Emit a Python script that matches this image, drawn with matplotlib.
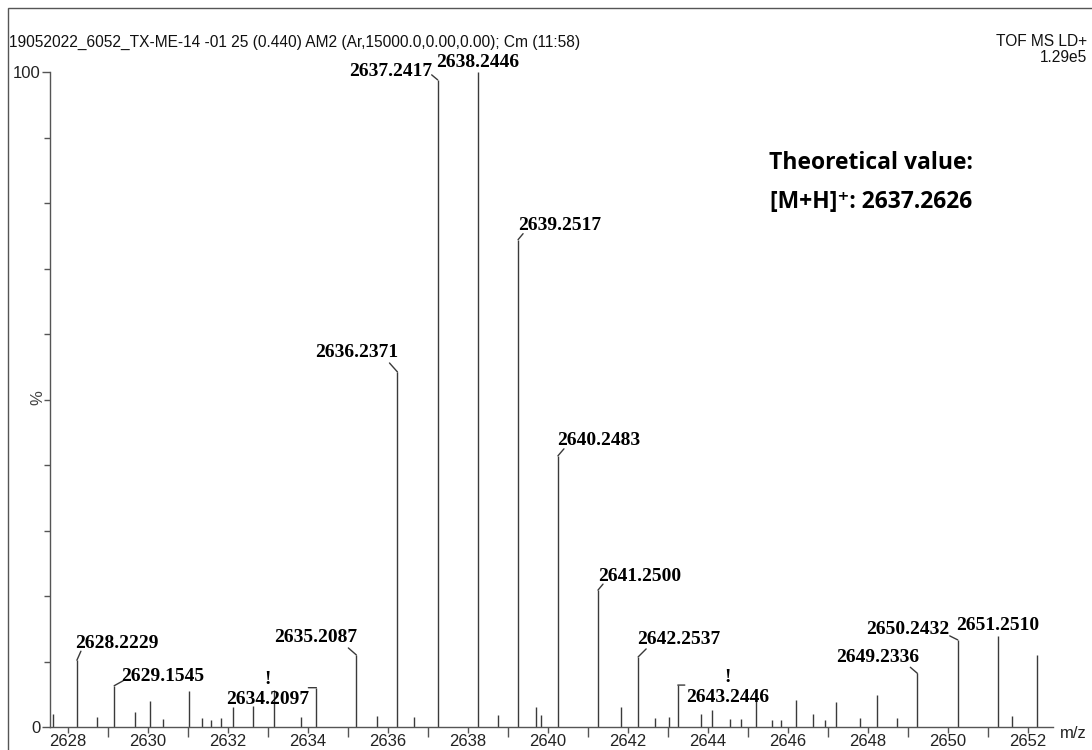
import matplotlib
matplotlib.use("Agg")
import matplotlib.pyplot as plt
from matplotlib.patches import Rectangle

# ---------------- data ----------------
labeled_mz = [2628.2229, 2629.1545, 2634.2097, 2635.2087, 2636.2371, 2637.2417,
              2638.2446, 2639.2517, 2640.2483, 2641.2500, 2642.2537, 2643.2446,
              2649.2336, 2650.2432, 2651.2510]
labeled_int = [10.2, 6.3, 6.0, 11.0, 54.2, 98.8, 100.0, 74.4, 41.4, 20.9, 10.7, 6.4,
               8.2, 13.3, 13.9]
flagged = [2634.2097, 2643.2446]  # peaks with "!" marker

small_mz = [2627.62, 2628.72, 2629.67, 2630.04, 2630.38, 2631.03, 2631.36, 2631.57,
            2631.82, 2632.13, 2632.62, 2633.15, 2633.82, 2635.72, 2636.64, 2638.75,
            2639.69, 2639.83, 2641.83, 2642.68, 2643.03, 2643.83, 2644.10, 2644.55,
            2644.82, 2645.19, 2645.60, 2645.82, 2646.20, 2646.63, 2646.93, 2647.20,
            2647.80, 2648.22, 2648.72, 2651.60, 2652.22]
small_int = [2.0, 1.6, 2.3, 4.0, 1.2, 5.5, 1.4, 1.0, 1.4, 3.1, 3.2, 5.6, 1.5, 1.7, 1.6,
             1.8, 3.1, 1.8, 3.1, 1.3, 1.5, 2.0, 2.6, 1.2, 1.2, 4.4, 1.0, 1.0, 4.1, 2.0,
             1.0, 3.8, 1.4, 4.9, 1.4, 1.7, 11.0]

xticks_major = [2628, 2630, 2632, 2634, 2636, 2638, 2640, 2642, 2644, 2646, 2648, 2650, 2652]
xticks_minor = [2629, 2631, 2633, 2635, 2637, 2639, 2641, 2643, 2645, 2647, 2649, 2651]

header = "19052022_6052_TX-ME-14 -01 25 (0.440) AM2 (Ar,15000.0,0.00,0.00); Cm (11:58)"
instrument = "TOF MS LD+"
base_peak = "1.29e5"
note1 = "Theoretical value:"
note2 = "[M+H]\u207a: 2637.2626"

# label offsets (pixels, image-down positive) relative to peak top: label centre, kink end
label_off = [(40, -17), (49, -9), (-49, 12), (-41, -17), (-41, -19), (-47, -8),
             (0, -10), (42, -14), (41, -15), (42, -14), (41, -17), (50, 12),
             (-40, -16), (-50, -10), (0, -10)]
kink_off = [(4, -9), (9, -5), (-8, 0), (-8, -7), (-8, -9), (-6, -5),
            None, (5, -6), (6, -7), (5, -6), (8, -8), (7, 0),
            (-7, -6), (-8, -4), None]

# ---------------- figure ----------------
W, H = 1092, 750
fig = plt.figure(figsize=(W / 100, H / 100), dpi=100)
fig.patch.set_facecolor("white")

# outer frame
fig.patches.append(Rectangle((8 / W, -0.05), 1.2, (H - 8) / H + 0.05, transform=fig.transFigure,
                             fill=False, edgecolor="#555555", linewidth=1.0))

ax = fig.add_axes([50 / W, (H - 727) / H, (1053 - 50) / W, (727 - 72) / H])
lc = "#3a3a3a"
ax.vlines(small_mz, 0, small_int, colors=lc, linewidth=1.0)
ax.vlines(labeled_mz, 0, labeled_int, colors=lc, linewidth=1.0)

ax.set_xlim(2627.55, 2652.625)
ax.set_ylim(0, 100)

for s in ["top", "right"]:
    ax.spines[s].set_visible(False)
for s in ["left", "bottom"]:
    ax.spines[s].set_color("#555555")
    ax.spines[s].set_linewidth(1.0)

ax.set_xticks(xticks_major)
ax.set_xticks(xticks_minor, minor=True)
ax.set_yticks([0, 100])
ax.set_yticks(list(range(10, 100, 10)), minor=True)
ax.tick_params(axis="x", which="major", length=4, width=1, color="#555555", pad=1,
               labelsize=12, labelcolor="#222222")
ax.tick_params(axis="x", which="minor", length=7, width=1, color="#555555")
ax.tick_params(axis="y", which="major", length=6, width=1, color="#555555", pad=1,
               labelsize=12, labelcolor="#222222")
ax.tick_params(axis="y", which="minor", length=4, width=1, color="#555555")
for lab in ax.get_xticklabels() + ax.get_yticklabels():
    lab.set_fontfamily("Liberation Sans")

# peak labels
for mz, it, lo, ko in zip(labeled_mz, labeled_int, label_off, kink_off):
    if ko is not None:
        ax.annotate("", xy=(mz, it), xytext=(ko[0], -ko[1]), textcoords="offset pixels",
                    arrowprops=dict(arrowstyle="-", color=lc, lw=1.0, shrinkA=0, shrinkB=0))
    ax.annotate(f"{mz:.4f}", xy=(mz, it), xytext=(lo[0], -lo[1]), textcoords="offset pixels",
                ha="center", va="center", fontsize=14, fontweight="bold",
                family="Liberation Serif", color="black")
    if mz in flagged:
        ax.annotate("!", xy=(mz, it), xytext=(lo[0], -lo[1] + 20), textcoords="offset pixels",
                    ha="center", va="center", fontsize=14, fontweight="bold",
                    family="Liberation Serif", color="black")

# texts
fig.text(9 / W, 1 - 42 / H, header, ha="left", va="center", fontsize=11.2,
         family="Liberation Sans", color="#111111")
fig.text(1087 / W, 1 - 42 / H, instrument, ha="right", va="center", fontsize=11.2,
         family="Liberation Sans", color="#111111")
fig.text(1087 / W, 1 - 57 / H, base_peak, ha="right", va="center", fontsize=11.2,
         family="Liberation Sans", color="#111111")
fig.text(38 / W, 1 - 398 / H, "%", ha="center", va="center", fontsize=12, rotation=90,
         family="Liberation Sans", color="#444444")
fig.text(1060 / W, 1 - 733 / H, "m/z", ha="left", va="center", fontsize=12,
         family="Liberation Sans", color="#222222")

fig.text(871 / W, 1 - 163 / H, note1, ha="center", va="center", fontsize=16.5,
         fontweight="bold", family=["Open Sans", "DejaVu Sans"], color="black")
fig.text(871 / W, 1 - 202 / H, note2, ha="center", va="center", fontsize=16.5,
         fontweight="bold", family=["Open Sans", "DejaVu Sans"], color="black")

fig.savefig("out.png", dpi=100, facecolor="white")
